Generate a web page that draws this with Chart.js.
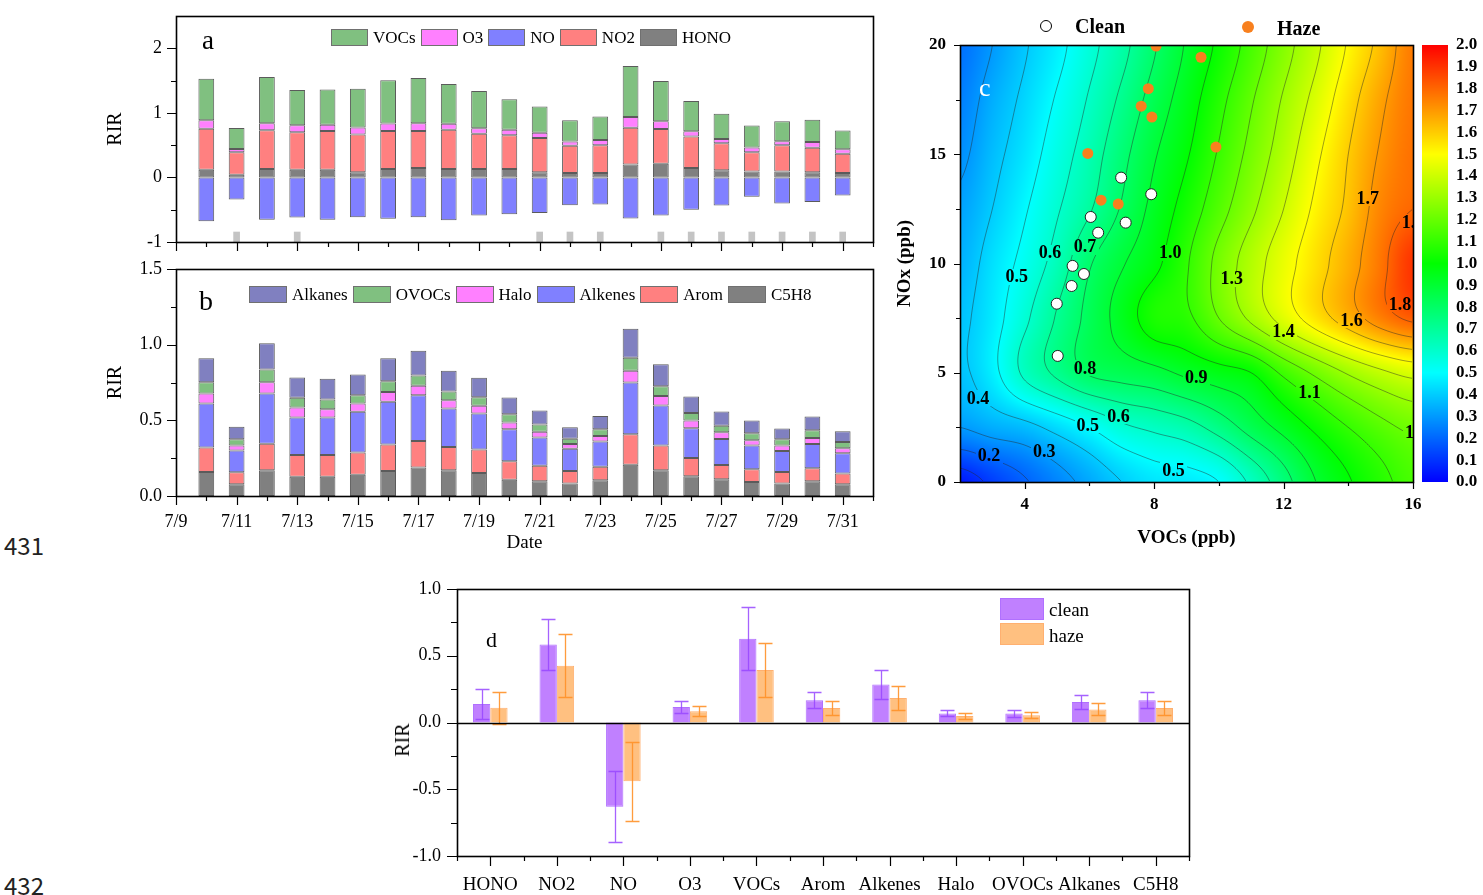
<!DOCTYPE html>
<html><head><meta charset="utf-8"><title>RIR figure</title>
<script src="https://cdn.jsdelivr.net/npm/chart.js@4.4.1/dist/chart.umd.min.js"></script>
<style>
html,body{margin:0;padding:0;background:#fff;}
body{position:relative;width:1483px;height:895px;overflow:hidden;font-family:'Liberation Serif','Times New Roman',serif;color:#000;}
canvas{position:absolute;}
.t{position:absolute;white-space:nowrap;line-height:1;}
.lg{position:absolute;display:flex;align-items:center;font-size:17px;line-height:1;white-space:nowrap;}
.lg .bx{box-sizing:border-box;border:1px solid #707070;margin-right:5px;height:17px;}
.lg .tx{margin-right:5px;}
.sq{position:absolute;box-sizing:border-box;}
</style></head>
<body>
<canvas id="ca" width="790" height="258" style="left:100px;top:0px"></canvas>
<canvas id="cb" width="790" height="300" style="left:100px;top:258px"></canvas>
<canvas id="cc" width="593" height="560" style="left:890px;top:0px"></canvas>
<canvas id="cd" width="820" height="320" style="left:380px;top:575px"></canvas>

<div class="lg" id="lga" style="left:331px;top:29px"></div>
<div class="lg" id="lgb" style="left:249px;top:286px"></div>

<div class="t" style="left:202px;top:27px;font-size:27px">a</div>
<div class="t" style="left:199px;top:287px;font-size:28px">b</div>
<div class="t" style="left:979px;top:75px;font-size:26px;color:#fff">c</div>
<div class="t" style="left:486px;top:629px;font-size:22px">d</div>

<div class="sq" style="left:1040px;top:20px;width:12px;height:12px;border-radius:50%;background:#fff;border:1px solid #000"></div>
<div class="t" style="left:1075px;top:16px;font-size:20px;font-weight:bold">Clean</div>
<div class="sq" style="left:1242px;top:21px;width:12px;height:12px;border-radius:50%;background:#f8801e"></div>
<div class="t" style="left:1277px;top:18px;font-size:20px;font-weight:bold">Haze</div>

<div class="sq" style="left:1000px;top:598px;width:44px;height:22px;background:#c080ff;border:1px solid #b070ff"></div>
<div class="t" style="left:1049px;top:600px;font-size:19px">clean</div>
<div class="sq" style="left:1000px;top:623px;width:44px;height:22px;background:#ffc080;border:1px solid #ffb070"></div>
<div class="t" style="left:1049px;top:626px;font-size:19px">haze</div>
<div class="t" style="left:402px;top:740px;font-size:20px;transform:translate(-50%,-50%) rotate(-90deg)">RIR</div>

<div class="t" style="left:4px;top:533px;font-family:'Noto Sans CJK SC','Noto Sans',sans-serif;font-size:24px;color:#222">431</div>
<div class="t" style="left:4px;top:873px;font-family:'Noto Sans CJK SC','Noto Sans',sans-serif;font-size:24px;color:#222">432</div>

<script>
// ================= DATA =================
const dates = ['7/10','7/11','7/12','7/13','7/14','7/15','7/16','7/17','7/18','7/19','7/20','7/21','7/22','7/23','7/24','7/25','7/26','7/27','7/28','7/29','7/30','7/31'];
const dateTickLabels = ['7/9','7/11','7/13','7/15','7/17','7/19','7/21','7/23','7/25','7/27','7/29','7/31'];
const majorDayTicks = [9,11,13,15,17,19,21,23,25,27,29,31];
const minorDayTicks = [10,12,14,16,18,20,22,24,26,28,30,32];
const cleanDays = ['7/11','7/13','7/21','7/22','7/23','7/25','7/26','7/27','7/28','7/29','7/30','7/31'];

// panel a (segment heights)
const rirHONO = [0.12,0.04,0.13,0.12,0.12,0.08,0.13,0.145,0.13,0.13,0.13,0.08,0.07,0.07,0.20,0.21,0.145,0.11,0.09,0.09,0.08,0.07];
const rirNO2  = [0.635,0.35,0.60,0.58,0.60,0.585,0.59,0.575,0.61,0.545,0.525,0.53,0.42,0.43,0.57,0.54,0.49,0.42,0.30,0.41,0.38,0.295];
const rirO3   = [0.13,0.05,0.11,0.11,0.095,0.11,0.115,0.12,0.09,0.085,0.085,0.08,0.065,0.08,0.165,0.12,0.08,0.065,0.075,0.06,0.09,0.07];
const rirVOCs = [0.645,0.325,0.715,0.545,0.545,0.60,0.67,0.70,0.615,0.58,0.47,0.41,0.33,0.365,0.79,0.625,0.47,0.39,0.34,0.31,0.345,0.29];
const rirNO   = [-0.68,-0.34,-0.655,-0.62,-0.655,-0.615,-0.64,-0.615,-0.665,-0.59,-0.57,-0.55,-0.43,-0.42,-0.635,-0.59,-0.50,-0.435,-0.30,-0.405,-0.38,-0.28];
const cleanMark = [-1,-0.84];
const aYTicks = [-1,0,1,2], aYMinor = [-0.5,0.5,1.5];

// panel b (segment heights)
const rirC5H8    = [0.159,0.077,0.17,0.128,0.128,0.141,0.165,0.188,0.17,0.152,0.108,0.097,0.082,0.104,0.207,0.17,0.13,0.11,0.093,0.082,0.097,0.077];
const rirArom    = [0.161,0.08,0.176,0.143,0.143,0.146,0.175,0.176,0.154,0.155,0.121,0.103,0.083,0.09,0.201,0.163,0.121,0.095,0.083,0.077,0.086,0.071];
const rirAlkenes = [0.291,0.143,0.331,0.247,0.247,0.269,0.282,0.302,0.254,0.238,0.212,0.186,0.148,0.166,0.342,0.265,0.197,0.172,0.157,0.139,0.161,0.134];
const rirHalo    = [0.066,0.033,0.075,0.067,0.056,0.055,0.066,0.062,0.055,0.051,0.044,0.038,0.031,0.037,0.077,0.062,0.051,0.044,0.035,0.035,0.04,0.033];
const rirOVOCs   = [0.075,0.042,0.084,0.064,0.064,0.055,0.071,0.068,0.057,0.057,0.055,0.048,0.035,0.044,0.086,0.066,0.05,0.044,0.047,0.042,0.051,0.042];
const rirAlkanes = [0.159,0.082,0.174,0.134,0.136,0.137,0.152,0.164,0.137,0.128,0.111,0.093,0.075,0.088,0.192,0.145,0.108,0.093,0.084,0.071,0.09,0.071];
const bYTicks = [0,0.5,1,1.5], bYMinor = [0.25,0.75,1.25];

// panel c (RIR surface, rows = NOx levels, columns = VOCs levels)
const gridVOCs = [2,3,4,5,6,7,8,9,10,11,12,13,14,15,16];
const gridNOx = [0,2.5,5,7.5,10,12.5,15,17.5,20];
const rirSurface = [
  [0.05,0.12,0.19,0.26,0.33,0.40,0.45,0.46,0.50,0.62,0.76,0.90,0.99,1.07,1.14],
  [0.30,0.34,0.37,0.43,0.50,0.58,0.62,0.66,0.74,0.84,0.93,1.02,1.10,1.17,1.22],
  [0.38,0.47,0.62,0.72,0.81,0.84,0.87,0.92,0.96,1.00,1.12,1.22,1.31,1.38,1.43],
  [0.38,0.46,0.58,0.71,0.83,0.94,1.05,1.08,1.20,1.32,1.44,1.55,1.65,1.75,1.82],
  [0.35,0.44,0.53,0.64,0.79,0.89,0.975,1.09,1.23,1.35,1.46,1.56,1.66,1.77,1.90],
  [0.32,0.40,0.49,0.59,0.69,0.81,0.93,1.04,1.16,1.28,1.40,1.52,1.62,1.74,1.80],
  [0.28,0.37,0.45,0.55,0.65,0.77,0.89,0.99,1.11,1.23,1.35,1.48,1.60,1.71,1.78],
  [0.25,0.34,0.42,0.51,0.61,0.72,0.84,0.95,1.07,1.19,1.31,1.43,1.56,1.68,1.77],
  [0.22,0.30,0.39,0.47,0.57,0.67,0.79,0.91,1.02,1.14,1.26,1.38,1.51,1.63,1.76]
];
const contourLevels = [0.1,0.2,0.3,0.4,0.5,0.6,0.7,0.8,0.9,1.0,1.1,1.2,1.3,1.4,1.5,1.6,1.7,1.8,1.9];
const contourLabels = [
  {v:2.9,n:1.2,t:'0.2'},{v:4.6,n:1.4,t:'0.3'},{v:2.56,n:3.84,t:'0.4'},{v:3.75,n:9.4,t:'0.5'},
  {v:4.78,n:10.5,t:'0.6'},{v:5.86,n:10.77,t:'0.7'},{v:5.86,n:5.2,t:'0.8'},{v:5.95,n:2.6,t:'0.5'},
  {v:6.9,n:3.0,t:'0.6'},{v:8.6,n:0.55,t:'0.5'},{v:9.3,n:4.8,t:'0.9'},{v:8.5,n:10.5,t:'1.0'},
  {v:12.8,n:4.1,t:'1.1'},{v:10.4,n:9.3,t:'1.3'},{v:12.0,n:6.88,t:'1.4'},{v:14.1,n:7.4,t:'1.6'},
  {v:14.6,n:13.0,t:'1.7'},{v:15.6,n:8.15,t:'1.8'},{v:16.0,n:11.9,t:'1.8'},{v:16.1,n:2.25,t:'1.2'}
];
const cleanVOCs = [6.98,7.91,6.04,7.12,6.27,5.48,5.83,5.45,4.99,5.02];
const cleanNOx  = [13.93,13.17,12.13,11.87,11.41,9.89,9.52,8.97,8.16,5.77];
const hazeVOCs  = [8.06,7.82,7.60,7.93,5.95,6.36,6.89,9.45,9.91];
const hazeNOx   = [19.95,18.0,17.2,16.7,15.04,12.9,12.72,19.44,15.33];
const colorbarTicks = [0,0.1,0.2,0.3,0.4,0.5,0.6,0.7,0.8,0.9,1.0,1.1,1.2,1.3,1.4,1.5,1.6,1.7,1.8,1.9,2.0];
const cXTicks = [4,8,12,16], cXMinor = [6,10,14];
const cYTicks = [0,5,10,15,20], cYMinor = [2.5,7.5,12.5,17.5];

// panel d
const species = ['HONO','NO2','NO','O3','VOCs','Arom','Alkenes','Halo','OVOCs','Alkanes','C5H8'];
const cleanMean = [0.138,0.585,-0.631,0.116,0.628,0.166,0.284,0.068,0.068,0.153,0.166];
const cleanErr  = [0.11,0.19,0.267,0.044,0.234,0.06,0.11,0.023,0.027,0.055,0.06];
const hazeMean  = [0.11,0.425,-0.44,0.085,0.394,0.108,0.183,0.048,0.055,0.098,0.108];
const hazeErr   = [0.12,0.235,0.295,0.035,0.2,0.05,0.093,0.02,0.02,0.045,0.05];
const dYTicks = [-1,-0.5,0,0.5,1], dYMinor = [-0.75,-0.25,0.25,0.75];
const dXMajor = [0,1,2,3,4,5,6,7,8,9,10], dXMinor = [-0.5,0.5,1.5,2.5,3.5,4.5,5.5,6.5,7.5,8.5,9.5,10.5];

// ================= HELPERS =================
Chart.defaults.font.family = "'Liberation Serif','Times New Roman',serif";
Chart.defaults.color = '#000';
const dayNum = s => +s.split('/')[1];
const SERIF = "'Liberation Serif','Times New Roman',serif";

const decor = {
  id: 'decor',
  afterDatasetsDraw(chart, args, opts) {
    const ctx = chart.ctx, a = chart.chartArea;
    ctx.save();
    ctx.strokeStyle = '#000';
    if (opts.zero) {
      const y0 = Math.round(chart.scales.y.getPixelForValue(0)) + 0.5;
      ctx.lineWidth = 1.5; ctx.beginPath(); ctx.moveTo(a.left, y0); ctx.lineTo(a.right, y0); ctx.stroke();
    }
    ctx.lineWidth = 1.2;
    ctx.beginPath();
    (opts.ticks || []).forEach(t => {
      const s = chart.scales[t.scale];
      t.values.forEach(v => {
        if (s.isHorizontal()) {
          const x = Math.round(s.getPixelForValue(v)) + 0.5;
          ctx.moveTo(x, a.bottom); ctx.lineTo(x, a.bottom + t.len);
        } else {
          const y = Math.round(s.getPixelForValue(v)) + 0.5;
          ctx.moveTo(a.left, y); ctx.lineTo(a.left - t.len, y);
        }
      });
    });
    ctx.stroke();
    ctx.lineWidth = 1.6;
    ctx.strokeRect(Math.round(a.left) + 0.5, Math.round(a.top) + 0.5, Math.round(a.right - a.left), Math.round(a.bottom - a.top));
    ctx.restore();
  }
};

const errbars = {
  id: 'errbars',
  afterDatasetsDraw(chart, args, opts) {
    const ctx = chart.ctx, ys = chart.scales.y;
    ctx.save();
    chart.data.datasets.forEach((ds, di) => {
      const meta = chart.getDatasetMeta(di);
      const err = opts.errors[di];
      ctx.strokeStyle = opts.colors[di];
      ctx.lineWidth = 1.3;
      ctx.beginPath();
      meta.data.forEach((bar, i) => {
        const m = ds.data[i], e = err[i];
        const x = Math.round(bar.x) + 0.5;
        const y1 = Math.round(ys.getPixelForValue(m + e)) + 0.5, y2 = Math.round(ys.getPixelForValue(m - e)) + 0.5;
        ctx.moveTo(x, y1); ctx.lineTo(x, y2);
        ctx.moveTo(x - opts.cap, y1); ctx.lineTo(x + opts.cap, y1);
        ctx.moveTo(x - opts.cap, y2); ctx.lineTo(x + opts.cap, y2);
      });
      ctx.stroke();
    });
    ctx.restore();
  }
};

function rainbow(val) {
  const t = Math.max(0, Math.min(1, val / 2));
  let r, g, b;
  if (t < 0.25) { r = 0; g = t / 0.25 * 255; b = 255; }
  else if (t < 0.5) { r = 0; g = 255; b = (1 - (t - 0.25) / 0.25) * 255; }
  else if (t < 0.75) { r = (t - 0.5) / 0.25 * 255; g = 255; b = 0; }
  else { r = 255; g = (1 - (t - 0.75) / 0.25) * 255; b = 0; }
  return [r, g, b];
}
function cr(p0, p1, p2, p3, t) {
  return p1 + 0.5 * t * (p2 - p0 + t * (2 * p0 - 5 * p1 + 4 * p2 - p3 + t * (3 * (p1 - p2) + p3 - p0)));
}
function surface(v, n) {
  const nx = gridVOCs.length, ny = gridNOx.length;
  const gx = (v - gridVOCs[0]) / (gridVOCs[1] - gridVOCs[0]);
  const gy = (n - gridNOx[0]) / (gridNOx[1] - gridNOx[0]);
  const i = Math.max(0, Math.min(nx - 2, Math.floor(gx)));
  const j = Math.max(0, Math.min(ny - 2, Math.floor(gy)));
  const tx = Math.max(0, Math.min(1, gx - i)), ty = Math.max(0, Math.min(1, gy - j));
  const at = (a, b) => rirSurface[Math.max(0, Math.min(ny - 1, b))][Math.max(0, Math.min(nx - 1, a))];
  const row = b => cr(at(i - 1, b), at(i, b), at(i + 1, b), at(i + 2, b), tx);
  return cr(row(j - 1), row(j), row(j + 1), row(j + 2), ty);
}

const contourPlugin = {
  id: 'contour',
  beforeDatasetsDraw(chart) {
    const ctx = chart.ctx, a = chart.chartArea, xs = chart.scales.x, ys = chart.scales.y, cb = chart.scales.cb;
    const L = Math.round(a.left), T = Math.round(a.top), W = Math.round(a.right) - L, H = Math.round(a.bottom) - T;
    const W1 = W + 1;
    const F = new Float32Array(W1 * (H + 1));
    for (let j = 0; j <= H; j++) {
      const n = ys.getValueForPixel(T + j);
      for (let i = 0; i <= W; i++) F[j * W1 + i] = surface(xs.getValueForPixel(L + i), n);
    }
    const img = ctx.createImageData(W, H);
    for (let j = 0; j < H; j++) for (let i = 0; i < W; i++) {
      const val = (F[j * W1 + i] + F[j * W1 + i + 1] + F[(j + 1) * W1 + i] + F[(j + 1) * W1 + i + 1]) / 4;
      const c = rainbow(val), k = (j * W + i) * 4;
      img.data[k] = c[0]; img.data[k + 1] = c[1]; img.data[k + 2] = c[2]; img.data[k + 3] = 255;
    }
    ctx.putImageData(img, L, T);
    // contour lines (marching squares)
    const s = 2;
    ctx.save();
    ctx.beginPath(); ctx.rect(L, T, W, H); ctx.clip();
    ctx.strokeStyle = 'rgba(40,40,40,0.5)'; ctx.lineWidth = 0.9;
    ctx.beginPath();
    for (const c of contourLevels) {
      for (let j = 0; j + s <= H; j += s) for (let i = 0; i + s <= W; i += s) {
        const p = F[j * W1 + i], q = F[j * W1 + i + s], d = F[(j + s) * W1 + i], e = F[(j + s) * W1 + i + s];
        const pts = [];
        if ((p < c) !== (q < c)) pts.push([i + s * (c - p) / (q - p), j]);
        if ((q < c) !== (e < c)) pts.push([i + s, j + s * (c - q) / (e - q)]);
        if ((e < c) !== (d < c)) pts.push([i + s * (c - d) / (e - d), j + s]);
        if ((d < c) !== (p < c)) pts.push([i, j + s * (c - p) / (d - p)]);
        if (pts.length >= 2) {
          ctx.moveTo(L + pts[0][0], T + pts[0][1]); ctx.lineTo(L + pts[1][0], T + pts[1][1]);
          if (pts.length === 4) { ctx.moveTo(L + pts[2][0], T + pts[2][1]); ctx.lineTo(L + pts[3][0], T + pts[3][1]); }
        }
      }
    }
    ctx.stroke();
    // contour labels (gap in the lines under each label)
    ctx.font = 'bold 18px ' + SERIF;
    ctx.textAlign = 'center'; ctx.textBaseline = 'middle'; ctx.fillStyle = '#000';
    contourLabels.forEach(lb => {
      const x = xs.getPixelForValue(lb.v), y = ys.getPixelForValue(lb.n);
      const w = ctx.measureText(lb.t).width;
      ctx.putImageData(img, L, T, Math.round(x - w / 2 - 2 - L), Math.round(y - 8 - T), Math.round(w + 4), 16);
      ctx.fillText(lb.t, x, y + 1);
    });
    ctx.restore();
    // colour bar
    const x0 = Math.round(a.right) + 9;
    for (let y = Math.round(cb.top); y < Math.round(cb.bottom); y++) {
      const c = rainbow(cb.getValueForPixel(y + 0.5));
      ctx.fillStyle = 'rgb(' + c.map(Math.round).join(',') + ')';
      ctx.fillRect(x0, y, 26, 1);
    }
  }
};

const hideGrid = {display: false, drawTicks: false};
const noBorder = {display: false};
const fixW = w => s => { s.width = w; s.paddingTop = 0; s.paddingBottom = 0; };
const fixH = h => s => { s.height = h; s.paddingLeft = 0; s.paddingRight = 0; };
const setTicks = arr => s => { s.ticks = arr.map(v => ({value: v})); };
const allDays = majorDayTicks.concat(minorDayTicks).sort((p, q) => p - q);
const dayLabel = v => { const f = dateTickLabels.find(d => dayNum(d) === v); return f || ''; };

const segStyle = (bg) => ({backgroundColor: bg, borderColor: 'rgba(50,50,50,0.8)', borderWidth: 1, borderSkipped: false, barPercentage: 0.52, categoryPercentage: 1, stack: 'main'});
const series = arr => dates.map((d, i) => ({x: dayNum(d), y: arr[i]}));

function legendHTML(id, items) {
  const el = document.getElementById(id);
  items.forEach(it => {
    const b = document.createElement('span'); b.className = 'bx'; b.style.width = it.w + 'px'; b.style.background = it.c;
    const t = document.createElement('span'); t.className = 'tx'; t.textContent = it.l;
    el.appendChild(b); el.appendChild(t);
  });
}

// ================= PANEL a =================
const aSeries = [
  {label: 'HONO', d: rirHONO, c: '#808080'},
  {label: 'NO2', d: rirNO2, c: '#ff8080'},
  {label: 'O3', d: rirO3, c: '#ff80ff'},
  {label: 'VOCs', d: rirVOCs, c: '#80c080'},
  {label: 'NO', d: rirNO, c: '#8080ff'}
];
new Chart(document.getElementById('ca'), {
  type: 'bar',
  data: {datasets: aSeries.map(s => Object.assign({label: s.label, data: series(s.d)}, segStyle(s.c))).concat([
    {label: 'clean days', data: cleanDays.map(d => ({x: dayNum(d), y: cleanMark})), backgroundColor: '#c4c4c4', borderWidth: 0, grouped: false, stack: 'mark', barPercentage: 0.22, categoryPercentage: 1}
  ])},
  options: {
    responsive: false, devicePixelRatio: 1, animation: false, events: [],
    layout: {padding: {left: 0, right: 17, top: 16, bottom: 0}},
    plugins: {legend: {display: false}, tooltip: {enabled: false},
      decor: {ticks: [{scale: 'x', values: majorDayTicks, len: 9}, {scale: 'x', values: minorDayTicks, len: 5}, {scale: 'y', values: aYTicks, len: 9}, {scale: 'y', values: aYMinor, len: 5}]}},
    scales: {
      x: {type: 'linear', min: 9, max: 32, offset: false, stacked: true, grid: hideGrid, border: noBorder, ticks: {display: false}, afterBuildTicks: setTicks(allDays), afterFit: fixH(16)},
      y: {type: 'linear', min: -1, max: 2.5, stacked: true, grid: hideGrid, border: noBorder,
        ticks: {padding: 14, font: {size: 18}, callback: v => String(v)}, afterBuildTicks: setTicks(aYTicks), afterFit: fixW(76),
        title: {display: true, text: 'RIR', font: {size: 20}, padding: {top: 4, bottom: 0}}}
    }
  },
  plugins: [decor]
});
legendHTML('lga', [{l: 'VOCs', c: '#80c080', w: 37}, {l: 'O3', c: '#ff80ff', w: 37}, {l: 'NO', c: '#8080ff', w: 37}, {l: 'NO2', c: '#ff8080', w: 37}, {l: 'HONO', c: '#808080', w: 37}]);

// ================= PANEL b =================
const bSeries = [
  {label: 'C5H8', d: rirC5H8, c: '#808080'},
  {label: 'Arom', d: rirArom, c: '#ff8080'},
  {label: 'Alkenes', d: rirAlkenes, c: '#8080ff'},
  {label: 'Halo', d: rirHalo, c: '#ff80ff'},
  {label: 'OVOCs', d: rirOVOCs, c: '#80c080'},
  {label: 'Alkanes', d: rirAlkanes, c: '#8080c0'}
];
new Chart(document.getElementById('cb'), {
  type: 'bar',
  data: {datasets: bSeries.map(s => Object.assign({label: s.label, data: series(s.d)}, segStyle(s.c)))},
  options: {
    responsive: false, devicePixelRatio: 1, animation: false, events: [],
    layout: {padding: {left: 0, right: 17, top: 11, bottom: 0}},
    plugins: {legend: {display: false}, tooltip: {enabled: false},
      decor: {ticks: [{scale: 'x', values: majorDayTicks, len: 9}, {scale: 'x', values: minorDayTicks, len: 5}, {scale: 'y', values: bYTicks, len: 9}, {scale: 'y', values: bYMinor, len: 5}]}},
    scales: {
      x: {type: 'linear', min: 9, max: 32, offset: false, stacked: true, grid: hideGrid, border: noBorder,
        ticks: {padding: 15, font: {size: 18}, autoSkip: false, maxRotation: 0, minRotation: 0, callback: v => dayLabel(v)},
        afterBuildTicks: setTicks(allDays), afterFit: fixH(62),
        title: {display: true, text: 'Date', font: {size: 19}, padding: {top: 0, bottom: 4}}},
      y: {type: 'linear', min: 0, max: 1.5, stacked: true, grid: hideGrid, border: noBorder,
        ticks: {padding: 14, font: {size: 18}, callback: v => v.toFixed(1)}, afterBuildTicks: setTicks(bYTicks), afterFit: fixW(76),
        title: {display: true, text: 'RIR', font: {size: 20}, padding: {top: 4, bottom: 0}}}
    }
  },
  plugins: [decor]
});
legendHTML('lgb', [{l: 'Alkanes', c: '#8080c0', w: 38}, {l: 'OVOCs', c: '#80c080', w: 38}, {l: 'Halo', c: '#ff80ff', w: 38}, {l: 'Alkenes', c: '#8080ff', w: 38}, {l: 'Arom', c: '#ff8080', w: 38}, {l: 'C5H8', c: '#808080', w: 38}]);

// ================= PANEL c =================
new Chart(document.getElementById('cc'), {
  type: 'scatter',
  data: {datasets: [
    {label: 'Clean', data: cleanVOCs.map((v, i) => ({x: v, y: cleanNOx[i]})), xAxisID: 'x', yAxisID: 'y', backgroundColor: '#ffffff', borderColor: '#222', borderWidth: 1, pointRadius: 5.5},
    {label: 'Haze', data: hazeVOCs.map((v, i) => ({x: v, y: hazeNOx[i]})), xAxisID: 'x', yAxisID: 'y', backgroundColor: '#f8801e', borderWidth: 0, pointRadius: 5.5}
  ]},
  options: {
    responsive: false, devicePixelRatio: 1, animation: false, events: [],
    layout: {padding: {left: 0, right: 0, top: 45, bottom: 0}},
    plugins: {legend: {display: false}, tooltip: {enabled: false},
      decor: {ticks: [{scale: 'x', values: cXTicks, len: 7}, {scale: 'x', values: cXMinor, len: 4}, {scale: 'y', values: cYTicks, len: 6}, {scale: 'y', values: cYMinor, len: 4}]}},
    scales: {
      x: {type: 'linear', axis: 'x', position: 'bottom', min: 2, max: 16, grid: hideGrid, border: noBorder,
        ticks: {padding: 12, font: {size: 17, weight: 'bold'}, autoSkip: false, maxRotation: 0}, afterBuildTicks: setTicks(cXTicks), afterFit: fixH(78),
        title: {display: true, text: 'VOCs (ppb)', font: {size: 19, weight: 'bold'}, padding: {top: 0, bottom: 11}}},
      y: {type: 'linear', axis: 'y', position: 'left', min: 0, max: 20, grid: hideGrid, border: noBorder,
        ticks: {padding: 14, font: {size: 17, weight: 'bold'}}, afterBuildTicks: setTicks(cYTicks), afterFit: fixW(70),
        title: {display: true, text: 'NOx (ppb)', font: {size: 19, weight: 'bold'}, padding: {top: 4, bottom: 0}}},
      cb: {type: 'linear', axis: 'y', position: 'right', min: 0, max: 2, grid: hideGrid, border: noBorder,
        ticks: {padding: 43, font: {size: 17, weight: 'bold', lineHeight: 1}, autoSkip: false, callback: v => v.toFixed(1)},
        afterBuildTicks: setTicks(colorbarTicks), afterFit: fixW(70)}
    }
  },
  plugins: [contourPlugin, decor]
});

// ================= PANEL d =================
new Chart(document.getElementById('cd'), {
  type: 'bar',
  data: {labels: species, datasets: [
    {label: 'clean', data: cleanMean, backgroundColor: '#c080ff', borderColor: '#b070ff', borderWidth: 1, barPercentage: 1, categoryPercentage: 0.52},
    {label: 'haze', data: hazeMean, backgroundColor: '#ffc080', borderColor: '#ffb070', borderWidth: 1, barPercentage: 1, categoryPercentage: 0.52}
  ]},
  options: {
    responsive: false, devicePixelRatio: 1, animation: false, events: [],
    layout: {padding: {left: 0, right: 11, top: 14, bottom: 0}},
    plugins: {legend: {display: false}, tooltip: {enabled: false},
      errbars: {errors: [cleanErr, hazeErr], colors: ['rgba(150,70,255,0.85)', 'rgba(255,145,40,0.9)'], cap: 7},
      decor: {zero: true, ticks: [{scale: 'x', values: dXMajor, len: 10}, {scale: 'x', values: dXMinor, len: 5}, {scale: 'y', values: dYTicks, len: 10}, {scale: 'y', values: dYMinor, len: 6}]}},
    scales: {
      x: {grid: hideGrid, border: noBorder, ticks: {padding: 18, font: {size: 19}, autoSkip: false, maxRotation: 0, minRotation: 0}, afterFit: fixH(39)},
      y: {type: 'linear', min: -1, max: 1, grid: hideGrid, border: noBorder,
        ticks: {padding: 16, font: {size: 18}, callback: v => v.toFixed(1)}, afterBuildTicks: setTicks(dYTicks), afterFit: fixW(77)}
    }
  },
  plugins: [errbars, decor]
});
</script>
</body></html>
